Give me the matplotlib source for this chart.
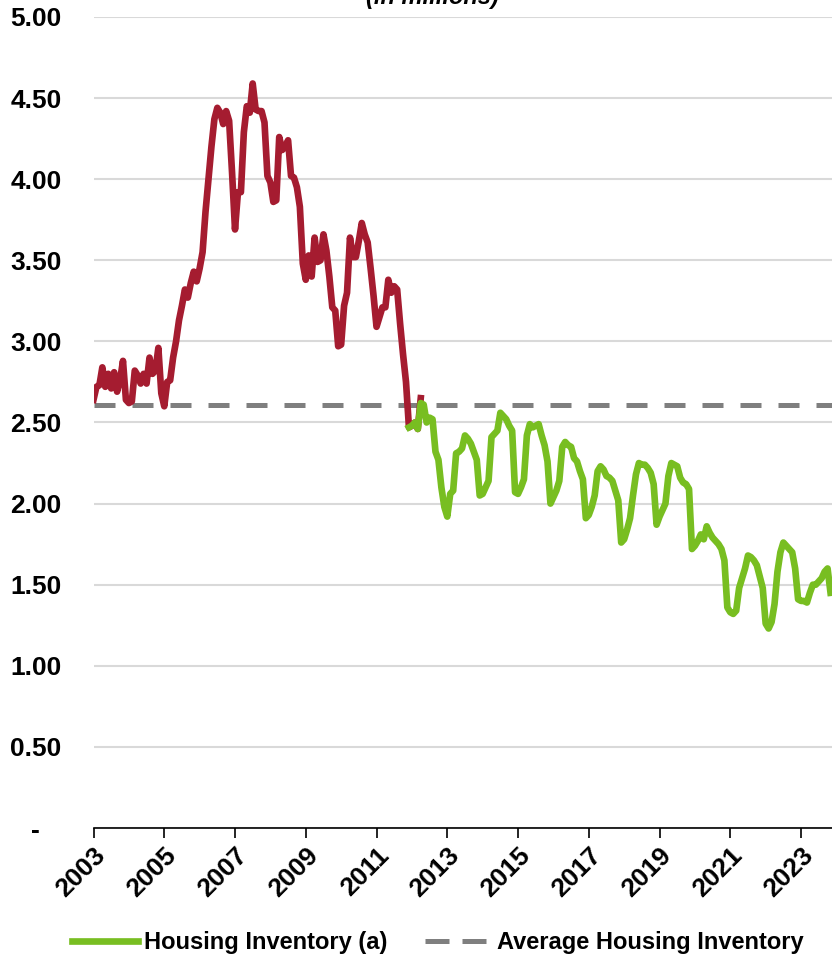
import matplotlib
matplotlib.use("Agg")
import matplotlib.pyplot as plt
from matplotlib.lines import Line2D

plt.rcParams['font.family'] = ['Liberation Sans', 'DejaVu Sans']

# Monthly housing inventory (millions), starting January 2003
inventory_2003_2012 = [
    2.64, 2.72, 2.73, 2.84, 2.72, 2.80, 2.71, 2.81, 2.69, 2.76, 2.88, 2.64,   # 2003
    2.62, 2.63, 2.82, 2.79, 2.74, 2.80, 2.74, 2.90, 2.80, 2.82, 2.96, 2.68,   # 2004
    2.60, 2.75, 2.76, 2.90, 3.00, 3.13, 3.22, 3.32, 3.27, 3.36, 3.43, 3.37,   # 2005
    3.45, 3.55, 3.80, 4.00, 4.20, 4.37, 4.44, 4.41, 4.34, 4.42, 4.36, 4.04,   # 2006
    3.69, 3.92, 3.92, 4.29, 4.45, 4.41, 4.59, 4.43, 4.42, 4.42, 4.35, 4.02,   # 2007
    3.98, 3.86, 3.87, 4.26, 4.18, 4.20, 4.24, 4.02, 4.01, 3.95, 3.83, 3.48,   # 2008
    3.38, 3.53, 3.40, 3.64, 3.49, 3.50, 3.66, 3.56, 3.40, 3.21, 3.19, 2.97,   # 2009
    2.98, 3.22, 3.30, 3.64, 3.52, 3.52, 3.62, 3.73, 3.66, 3.61, 3.45, 3.28,   # 2010
    3.09, 3.15, 3.21, 3.21, 3.38, 3.30, 3.34, 3.32, 3.11, 2.92, 2.75, 2.47,   # 2011
    2.48, 2.50, 2.46, 2.65,                                                   # 2012
]
early_start = 0          # month index of January 2003

# Same measure from December 2011 onward
inventory_2012_2023 = [
    2.47,                                                                     # Dec 2011
    2.48, 2.50, 2.46, 2.62, 2.61, 2.50, 2.53, 2.52, 2.32, 2.27, 2.10, 1.98,   # 2012
    1.92, 2.06, 2.08, 2.31, 2.32, 2.34, 2.42, 2.40, 2.37, 2.32, 2.27, 2.05,   # 2013
    2.06, 2.10, 2.14, 2.41, 2.43, 2.45, 2.56, 2.54, 2.52, 2.48, 2.45, 2.07,   # 2014
    2.06, 2.10, 2.15, 2.42, 2.49, 2.47, 2.48, 2.49, 2.42, 2.36, 2.26, 2.00,   # 2015
    2.04, 2.08, 2.14, 2.35, 2.38, 2.36, 2.35, 2.28, 2.26, 2.20, 2.15, 1.91,   # 2016
    1.93, 1.98, 2.05, 2.20, 2.23, 2.21, 2.17, 2.16, 2.14, 2.08, 2.02, 1.76,   # 2017
    1.78, 1.84, 1.91, 2.05, 2.18, 2.25, 2.24, 2.24, 2.22, 2.19, 2.12, 1.87,   # 2018
    1.92, 1.96, 2.00, 2.17, 2.25, 2.24, 2.23, 2.16, 2.13, 2.12, 2.09, 1.72,   # 2019
    1.74, 1.77, 1.81, 1.78, 1.86, 1.82, 1.79, 1.77, 1.75, 1.72, 1.65, 1.36,   # 2020
    1.33, 1.32, 1.34, 1.48, 1.54, 1.60, 1.68, 1.67, 1.65, 1.62, 1.55, 1.48,   # 2021
    1.26, 1.23, 1.27, 1.38, 1.58, 1.70, 1.76, 1.74, 1.72, 1.70, 1.60, 1.41,   # 2022
    1.40, 1.40, 1.39, 1.45, 1.50, 1.50, 1.52, 1.54, 1.58, 1.60, 1.45,         # 2023
]
late_start = 107         # month index of December 2011

average_inventory = 2.61

tick_years = [2003, 2005, 2007, 2009, 2011, 2013, 2015, 2017, 2019, 2021, 2023]
y_ticks = [0.0, 0.5, 1.0, 1.5, 2.0, 2.5, 3.0, 3.5, 4.0, 4.5, 5.0]
y_tick_labels = ["-   ", "0.50", "1.00", "1.50", "2.00", "2.50", "3.00", "3.50", "4.00", "4.50", "5.00"]

RED = "#A51C30"
GREEN = "#78BE21"
GREY = "#7F7F7F"

W, H = 832, 959
fig = plt.figure(figsize=(W / 100, H / 100), dpi=100)
ax = fig.add_axes([93.5 / W, 1 - 828 / H, (W - 93.5) / W, (828 - 17) / H])

x_early = list(range(early_start, early_start + len(inventory_2003_2012)))
x_late = list(range(late_start, late_start + len(inventory_2012_2023)))

ax.axhline(average_inventory, color=GREY, lw=3.6, dashes=(4.2, 3.4),
           solid_capstyle='butt', dash_capstyle='butt', zorder=2)
ax.plot(x_early, inventory_2003_2012, color=RED, lw=4.8,
        solid_joinstyle='round', zorder=3)
ax.plot(x_late, inventory_2012_2023, color=GREEN, lw=4.8,
        solid_joinstyle='round', zorder=4)

ax.set_xlim(0, 250.5)
ax.set_ylim(0, 5)

ax.set_yticks(y_ticks)
ax.set_yticklabels(y_tick_labels, fontsize=19, fontweight='bold')
ax.tick_params(axis='y', length=0, pad=23)
ax.grid(axis='y', color='#D9D9D9', lw=1.5, zorder=0)
ax.set_axisbelow(True)

ax.set_xticks([(y - 2003) * 12 for y in tick_years])
ax.set_xticklabels([str(y) for y in tick_years], fontsize=19, fontweight='bold',
                   rotation=45, ha='right', rotation_mode='anchor')
ax.tick_params(axis='x', direction='out', length=7, width=1.2, color='black', pad=4)

for side in ('left', 'top', 'right'):
    ax.spines[side].set_visible(False)
ax.spines['bottom'].set_color('black')
ax.spines['bottom'].set_linewidth(1.2)

fig.text(432 / W, 1 - 4 / H, "(in millions)", ha='center', va='baseline',
         fontsize=17, fontweight='bold', fontstyle='italic')

handles = [
    Line2D([], [], color=GREEN, lw=4.8),
    Line2D([], [], color=GREY, lw=3.6, dashes=(4.8, 2.6), dash_capstyle='butt'),
]
fig.legend(handles, ["Housing Inventory (a)", "Average Housing Inventory"],
           loc='center', bbox_to_anchor=(438 / W, 1 - 943 / H), ncol=2,
           frameon=False, handlelength=2.8, handletextpad=0.25, columnspacing=1.6,
           prop={'size': 17, 'weight': 'bold'})

fig.savefig("out.png", dpi=100)
